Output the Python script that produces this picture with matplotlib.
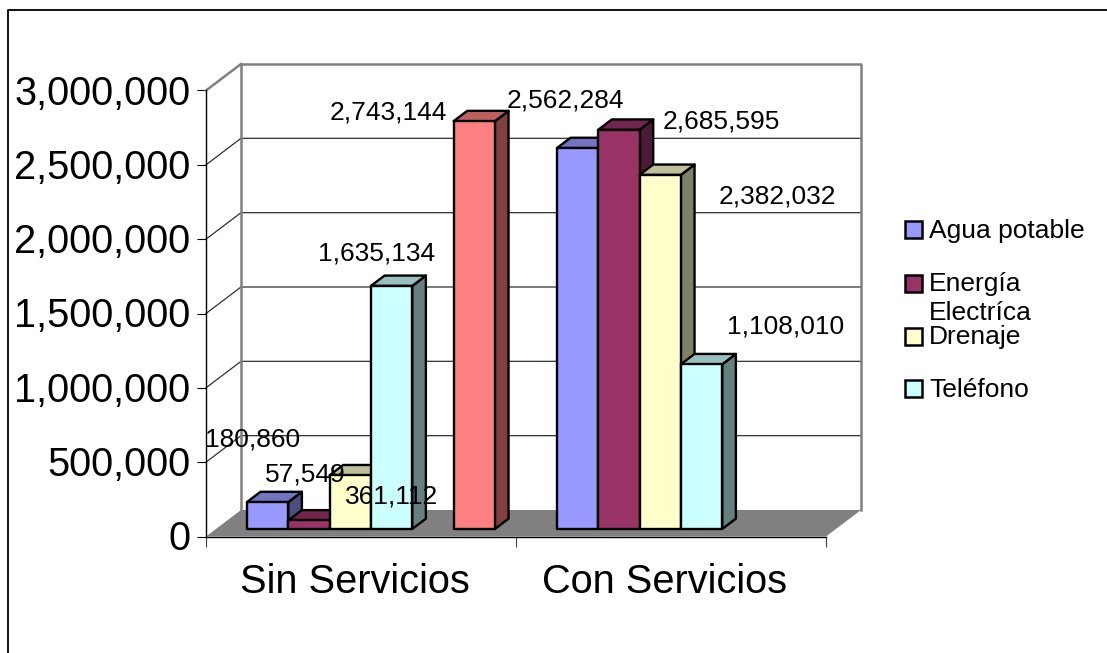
import matplotlib
matplotlib.use("Agg")
import matplotlib.pyplot as plt
from matplotlib.patches import Polygon, Rectangle
from matplotlib.ticker import StrMethodFormatter
from matplotlib.transforms import ScaledTranslation
from matplotlib.colors import to_rgb

categories = ["Sin Servicios", "Con Servicios"]
series_names = ["Agua potable", "Energía\nElectríca", "Drenaje", "Teléfono"]
# the 5th slot is empty in both groups, the red bar only exists in the first one
sin_servicios = [180860, 57549, 361112, 1635134, None, 2743144]
con_servicios = [2562284, 2685595, 2382032, 1108010, None, None]
y_ticks = [0, 500000, 1000000, 1500000, 2000000, 2500000, 3000000]

colors = ["#9999FF", "#993366", "#FFFFCC", "#CCFFFF", "#000000", "#FF8080"]

# label offsets from the top of each bar, in pixels, Excel put them by hand
sin_offsets = [(-15, 62.5), (-3.5, 46), (41.5, -21), (-15.5, 32.5), None, (-86, 8.5)]
con_offsets = [(-12.5, 47.5), (102, 8.5), (117, -21.5), (83.5, 38), None, None]

W, H = 1107, 653
FONT = "Liberation Sans"
plt.rcParams["font.family"] = FONT

fig = plt.figure(figsize=(W / 100, H / 100), dpi=100)
# front plane of the chart box: x 206..826, y 536.5..90.5 in image pixels
ax = fig.add_axes([206 / W, 1 - 536.5 / H, 620 / W, 446 / H])
ax.set_xlim(0, 2)
ax.set_ylim(0, 3000000)
ax.patch.set_visible(False)

DEPTH_X = 35 / 310
DEPTH_Y = 26.5 / 446 * 3000000
BAR_W = 1 / 7.5
BAR_START = 0.283
BAR_DEPTH = 0.39


def shade(color, factor):
    return tuple(c * factor for c in to_rgb(color))


def draw_bar(x0, value, color):
    x1 = x0 + BAR_W
    ox = BAR_START * DEPTH_X
    oy = BAR_START * DEPTH_Y
    dx = BAR_DEPTH * DEPTH_X
    dy = BAR_DEPTH * DEPTH_Y
    style = dict(edgecolor="black", linewidth=1.7, joinstyle="round", zorder=4, clip_on=False)
    ax.add_patch(Polygon([(x1 + ox, oy), (x1 + ox + dx, oy + dy),
                          (x1 + ox + dx, value + oy + dy), (x1 + ox, value + oy)],
                         facecolor=shade(color, 0.5), **style))
    ax.add_patch(Polygon([(x0 + ox, value + oy), (x1 + ox, value + oy),
                          (x1 + ox + dx, value + oy + dy), (x0 + ox + dx, value + oy + dy)],
                         facecolor=shade(color, 0.75), **style))
    ax.add_patch(Rectangle((x0 + ox, oy), BAR_W, value, facecolor=color, **style))


# walls and floor
wall_gray = "#808080"
ax.add_patch(Polygon([(0, 0), (2, 0), (2 + DEPTH_X, DEPTH_Y), (DEPTH_X, DEPTH_Y)],
                     facecolor=wall_gray, edgecolor="none", zorder=1, clip_on=False))
for v in y_ticks[1:-1]:
    ax.plot([0, DEPTH_X, 2 + DEPTH_X], [v, v + DEPTH_Y, v + DEPTH_Y], color="#303030",
            lw=0.9, zorder=1, clip_on=False, solid_joinstyle="miter")
ax.plot([DEPTH_X, DEPTH_X, 2 + DEPTH_X, 2 + DEPTH_X],
        [DEPTH_Y, 3000000 + DEPTH_Y, 3000000 + DEPTH_Y, DEPTH_Y],
        color=wall_gray, lw=1.8, zorder=2, clip_on=False)
ax.plot([0, DEPTH_X], [3000000, 3000000 + DEPTH_Y], color=wall_gray, lw=1.8, zorder=2, clip_on=False)

# bars and their labels
for i, (values, offsets) in enumerate(zip([sin_servicios, con_servicios], [sin_offsets, con_offsets])):
    for j, v in enumerate(values):
        if v is None:
            continue
        x0 = i + 0.75 * BAR_W + j * BAR_W
        draw_bar(x0, v, colors[j])
        ax.annotate(f"{v:,}", xy=(x0 + BAR_W / 2 + BAR_START * DEPTH_X, v + BAR_START * DEPTH_Y),
                    xytext=offsets[j], textcoords="offset pixels", ha="center", va="center",
                    fontsize=19, color="black", zorder=6, annotation_clip=False)

# axes
for side in ["top", "right"]:
    ax.spines[side].set_visible(False)
for side in ["left", "bottom"]:
    ax.spines[side].set_linewidth(1.0)
    ax.spines[side].set_zorder(3)
ax.set_yticks(y_ticks)
ax.yaxis.set_major_formatter(StrMethodFormatter("{x:,.0f}"))
ax.tick_params(axis="y", labelsize=28.6, length=6.5, width=0.8, pad=4.6)
up = ScaledTranslation(0, 1 / 100, fig.dpi_scale_trans)
for lab in ax.get_yticklabels():
    lab.set_transform(lab.get_transform() + up)
ax.set_xticks([0, 1, 2])
ax.set_xticklabels([])
ax.set_xticks([0.5, 1.5], minor=True)
ax.set_xticklabels(categories, minor=True)
ax.tick_params(axis="x", which="major", length=7, width=0.8, color="#404040")
ax.tick_params(axis="x", which="minor", length=0, labelsize=28.6, pad=19)
shift = ScaledTranslation(-6 / 100, 0, fig.dpi_scale_trans)
for lab in ax.get_xticklabels(minor=True):
    lab.set_transform(lab.get_transform() + shift)

# legend drawn by hand, the second entry runs over the third one like in the original
legend_y = [229, 283, 336, 388]
text_top = [219, 272, 325, 378]
for name, color, y, top in zip(series_names, colors, legend_y, text_top):
    fig.add_artist(Rectangle((905 / W, 1 - (y + 8.5) / H), 17 / W, 17 / H, facecolor=color,
                             edgecolor="black", linewidth=1.8, transform=fig.transFigure))
    fig.text(929 / W, 1 - top / H, name, fontsize=19, va="top", ha="left", linespacing=1.27)

# chart area border, cut off by the image on the right and bottom
fig.add_artist(plt.Line2D([7.5 / W, 7.5 / W, 1], [0, 1 - 10 / H, 1 - 10 / H], color="black",
                          lw=1.3, transform=fig.transFigure))

fig.savefig("out.png", dpi=100)
